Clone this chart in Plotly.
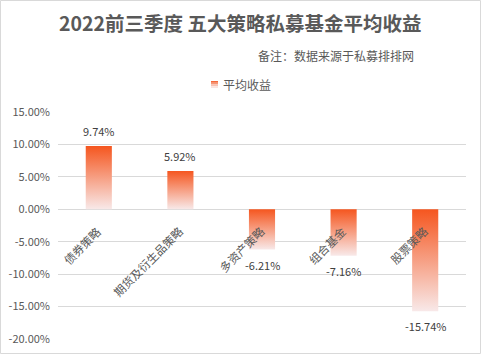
import plotly.graph_objects as go

categories = ["债券策略", "期货及衍生品策略", "多资产策略", "组合基金", "股票策略"]
values = [9.74, 5.92, -6.21, -7.16, -15.74]
tick_vals = [15, 10, 5, 0, -5, -10, -15, -20]
tick_text = ["15.00%", "10.00%", "5.00%", "0.00%", "-5.00%", "-10.00%", "-15.00%", "-20.00%"]
series_name = "平均收益"

W, H = 481, 354
ML, MR, MT, MB = 58, 15, 112, 15
PW, PH = W - ML - MR, H - MT - MB

ORANGE = "#F5561F"
PALE = "#F8E9E9"
BAR_HALF = 0.16
FONT = "Noto Sans CJK SC"

fig = go.Figure()
for i, (c, v) in enumerate(zip(categories, values)):
    xs = [i - BAR_HALF, i + BAR_HALF, i + BAR_HALF, i - BAR_HALF, i - BAR_HALF]
    ys = [0, 0, v, v, 0]
    fig.add_trace(go.Scatter(
        x=xs, y=ys, mode="lines", fill="toself",
        line=dict(width=0, color=ORANGE),
        fillgradient=dict(type="vertical", colorscale=[[0, PALE], [1, ORANGE]]),
        name=series_name, showlegend=False, hoverinfo="skip",
    ))
    fig.add_annotation(
        x=i, y=v, text=f"{v:.2f}%", showarrow=False,
        yshift=15 if v >= 0 else -15,
        font=dict(size=11, color="#404040", family=FONT),
    )
    fig.add_annotation(
        x=i, y=0, text=c, showarrow=False, textangle=-45,
        xanchor="right", yanchor="top", xshift=9, yshift=-11,
        font=dict(size=11.5, color="#595959", family=FONT),
    )

def px_x(p):
    return (p - ML) / PW

def px_y(p):
    return (H - MB - p) / PH

fig.add_shape(type="rect", xref="paper", yref="paper",
              x0=px_x(0.5), x1=px_x(480.5), y0=px_y(353.5), y1=px_y(0.5),
              line=dict(color="#D9D9D9", width=1), fillcolor="rgba(0,0,0,0)", layer="below")

# legend: small gradient square + text
legend_bands = ["#F5683A", "#F69677", "#F7C2B2", "#F8E3DF"]
sq_top, sq_bot = 81, 88
band_h = (sq_bot - sq_top) / len(legend_bands)
for k, col in enumerate(legend_bands):
    fig.add_shape(type="rect", xref="paper", yref="paper",
                  x0=px_x(211), x1=px_x(218),
                  y0=px_y(sq_top + (k + 1) * band_h), y1=px_y(sq_top + k * band_h),
                  line=dict(width=0), fillcolor=col)
fig.add_annotation(xref="paper", yref="paper", x=px_x(221), y=px_y(84.5),
                   text=series_name, showarrow=False, xanchor="left", yanchor="middle",
                   font=dict(size=12, color="#595959", family=FONT))

fig.add_annotation(xref="paper", yref="paper", x=px_x(240), y=px_y(22),
                   text="<b>2022前三季度 五大策略私募基金平均收益</b>", showarrow=False,
                   xanchor="center", yanchor="middle",
                   font=dict(size=19.5, color="#595959", family=FONT))
fig.add_annotation(xref="paper", yref="paper", x=px_x(416), y=px_y(55),
                   text="备注：数据来源于私募排排网", showarrow=False,
                   xanchor="right", yanchor="middle",
                   font=dict(size=12, color="#595959", family=FONT))

fig.update_layout(
    width=W, height=H,
    margin=dict(l=ML, r=MR, t=MT, b=MB, autoexpand=False),
    paper_bgcolor="white", plot_bgcolor="white",
    showlegend=False,
    xaxis=dict(range=[-0.5, 4.5], showgrid=False, zeroline=False, showticklabels=False,
               showline=False, fixedrange=True),
    yaxis=dict(range=[-20, 15], tickvals=tick_vals, ticktext=tick_text,
               showgrid=True, gridcolor="#D9D9D9", gridwidth=1,
               zeroline=True, zerolinecolor="#D9D9D9", zerolinewidth=1,
               tickfont=dict(size=11, color="#595959", family=FONT),
               ticks="", ticklabelstandoff=7, showline=False),
    font=dict(family=FONT),
)

fig.write_html("out.html")
